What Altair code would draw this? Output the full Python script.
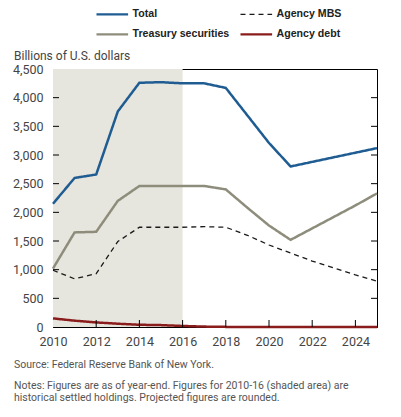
import altair as alt
import pandas as pd

years = list(range(2010, 2026))
total = [2150, 2600, 2660, 3760, 4260, 4270, 4250, 4250, 4170, 3690, 3210, 2800, 2880, 2960, 3040, 3120]
treasury = [1020, 1650, 1660, 2200, 2460, 2460, 2460, 2460, 2400, 2080, 1770, 1520, 1720, 1920, 2120, 2330]
mbs = [990, 840, 930, 1490, 1740, 1740, 1740, 1750, 1740, 1600, 1430, 1290, 1150, 1030, 910, 800]
agency_debt = [150, 110, 80, 57, 39, 33, 18, 7, 2, 0, 0, 0, 0, 0, 0, 0]

series_names = ["Total", "Agency MBS", "Treasury securities", "Agency debt"]
series_colors = ["#1f5c92", "#1a1a1a", "#8e8d7c", "#8b1c1c"]
series_dash = [[1, 0], [5, 4], [1, 0], [1, 0]]

y_ticks = [500, 1000, 1500, 2000, 2500, 3000, 3500, 4000]
x_ticks = [2012, 2014, 2016, 2018, 2020, 2022, 2024]
shade_period = {"start": [2010], "end": [2016]}

rows = []
for name, vals in zip(["Total", "Treasury securities", "Agency MBS", "Agency debt"],
                      [total, treasury, mbs, agency_debt]):
    for yr, v in zip(years, vals):
        rows.append({"year": yr, "value": v, "series": name})
df = pd.DataFrame(rows)

W, H = 324, 258
FONT = "Roboto"
xs = alt.Scale(domain=[2010, 2025], nice=False, zero=False)
ys = alt.Scale(domain=[0, 4500], nice=False)
xaxis = alt.Axis(values=list(range(2010, 2026, 2)), format="d", title=None, ticks=False,
                 labelPadding=8, labelFontSize=12.5, labelColor="#444", domainColor="black",
                 grid=False, labelFlush=False)
yaxis = alt.Axis(values=list(range(0, 5000, 500)), format=",d", title=None, ticks=False,
                 labelPadding=10, labelFontSize=12.5, labelColor="#444", domainColor="black",
                 grid=False)

legend = alt.Legend(title=None, orient="none", legendX=54, legendY=-60, columns=2,
                    direction="horizontal",
                    symbolType="stroke", symbolSize=1000, labelFont="Liberation Sans",
                    labelFontSize=10.6, labelFontWeight="bold", labelColor="#222",
                    columnPadding=6, rowPadding=9, labelOffset=15,
                    symbolStrokeWidth={"expr": "datum.label == 'Agency MBS' ? 1.2 : 2.2"})

shade = alt.Chart(pd.DataFrame(shade_period)).mark_rect(color="#e7e6de").encode(
    x=alt.X("start:Q", scale=xs, axis=xaxis), x2="end:Q",
    y=alt.value(0), y2=alt.value(H))

lines = alt.Chart(df).mark_line().encode(
    x=alt.X("year:Q", scale=xs, axis=xaxis),
    y=alt.Y("value:Q", scale=ys, axis=yaxis),
    color=alt.Color("series:N", scale=alt.Scale(domain=series_names, range=series_colors), legend=legend),
    strokeDash=alt.StrokeDash("series:N", scale=alt.Scale(domain=series_names, range=series_dash), legend=legend),
    strokeWidth=alt.condition(alt.datum.series == "Agency MBS", alt.value(1.3), alt.value(2.5)),
)

left_ticks = alt.Chart(pd.DataFrame({"v": y_ticks})).mark_rule(color="black").encode(
    y=alt.Y("v:Q", scale=ys, axis=yaxis), x=alt.value(0), x2=alt.value(6))
right_ticks = alt.Chart(pd.DataFrame({"v": y_ticks})).mark_rule(color="black").encode(
    y=alt.Y("v:Q", scale=ys, axis=yaxis), x=alt.value(W - 6), x2=alt.value(W))
bottom_ticks = alt.Chart(pd.DataFrame({"v": x_ticks})).mark_rule(color="black").encode(
    x=alt.X("v:Q", scale=xs, axis=xaxis), y=alt.value(H - 7), y2=alt.value(H))

one = pd.DataFrame({"a": [0]})
def note(txt, x, y, size, color):
    return alt.Chart(one).mark_text(align="left", baseline="alphabetic", font=FONT,
                                    fontSize=size, color=color).encode(
        x=alt.value(x), y=alt.value(y), text=alt.value(txt))

texts = [
    note("Billions of U.S. dollars", -39, -9, 12, "#444"),
    note("Source: Federal Reserve Bank of New York.", -39, 299, 10.5, "#555"),
    note("Notes: Figures are as of year-end. Figures for 2010-16 (shaded area) are", -39, 320, 10.5, "#555"),
    note("historical settled holdings. Projected figures are rounded.", -39, 332, 10.5, "#555"),
]

chart = alt.layer(shade, lines, left_ticks, right_ticks, bottom_ticks, *texts).properties(
    width=W, height=H, autosize=alt.AutoSizeParams(type="none"),
    padding={"left": 45, "top": 61, "right": 16, "bottom": 82},
).configure(font=FONT).configure_view(stroke="black", strokeWidth=1)

chart.save("out.html", embed_options={"renderer": "svg", "actions": False})
